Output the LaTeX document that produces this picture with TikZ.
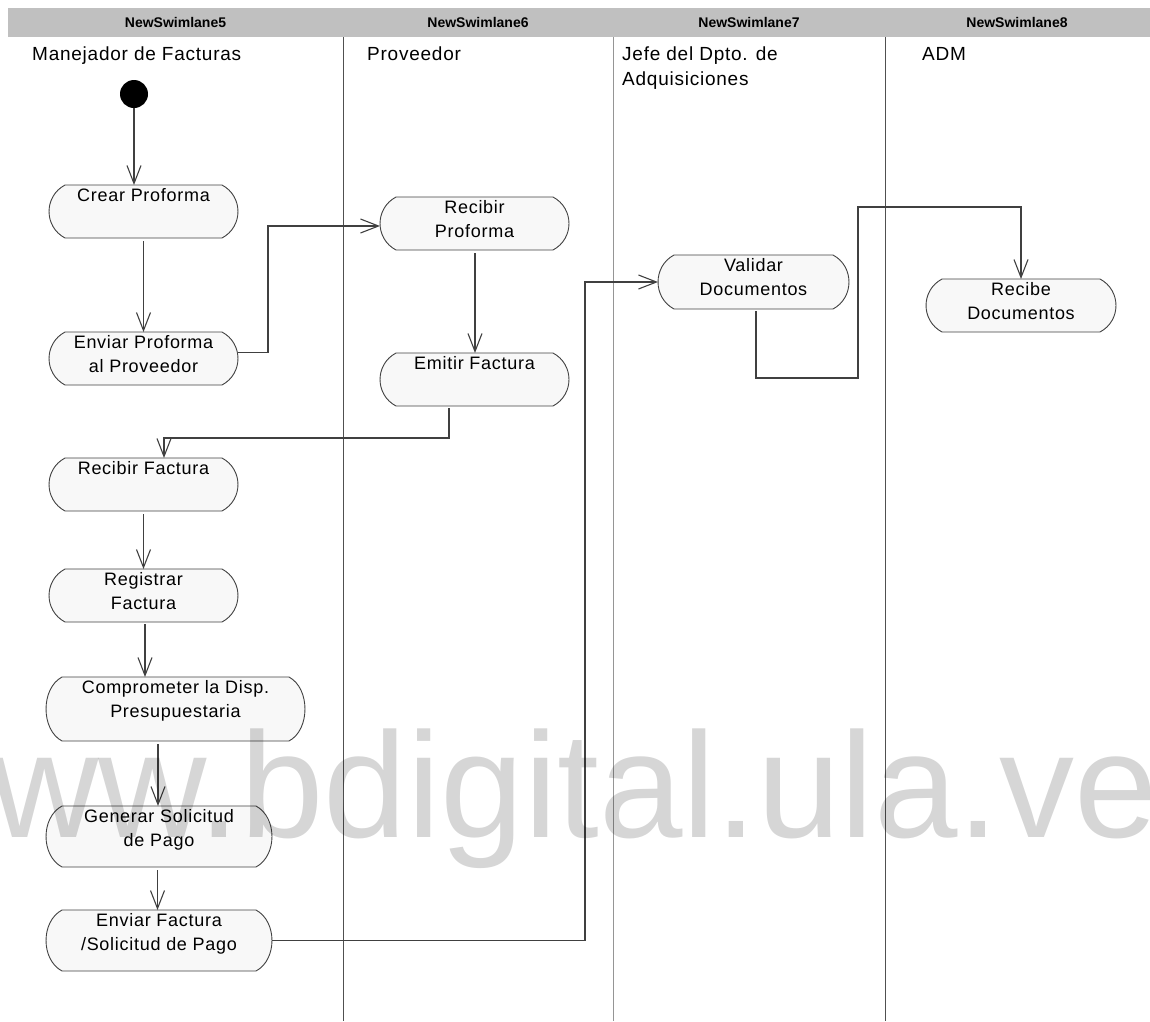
\documentclass[tikz,border=0pt]{standalone}
\usepackage{fontspec}
\usetikzlibrary{arrows.meta,calc}
\setmainfont{Liberation Sans}
\newfontfamily\dfont[LetterSpace=4]{Liberation Sans}
\newfontfamily\wfont{Liberation Sans}
\definecolor{headgray}{HTML}{C0C0C0}
\definecolor{edgegray}{HTML}{404040}
\definecolor{actfill}{HTML}{F8F8F8}
\definecolor{lanedark}{HTML}{505050}
\definecolor{lanelight}{HTML}{959595}
\tikzset{
  actbox/.style={rectangle, draw=none, inner sep=0pt, outer sep=0pt},
  actline/.style={draw=edgegray, fill=actfill, line width=0.9pt},
  acttext/.style={anchor=north, inner sep=0pt, align=center,
    font=\dfont\fontsize{18}{24}\selectfont},
  lanehead/.style={inner sep=0pt, font=\bfseries\fontsize{14}{16}\selectfont},
  lanetitle/.style={anchor=north west, inner sep=0pt, align=left,
    font=\dfont\fontsize{19}{25}\selectfont},
  flow/.style={draw=edgegray, line width=1.2pt,
    -{Straight Barb[length=18pt,width=14pt,line width=1.1pt]}},
  initial/.style={circle, fill=black, minimum size=28pt, inner sep=0pt},
  watermark/.style={anchor=base west, inner sep=0pt, text=black, text opacity=0.16,
    font=\wfont\fontsize{150}{150}\selectfont}
}
% activity: name, centre x, top y, width, height, label
\newcommand\actnode[6]{%
  \node[actbox, minimum width=#4pt, minimum height=#5pt] (#1) at (#2,{#3+#5/2}) {};
  \draw[actline] ([shift={(16,0)}]#1.north west) -- ([shift={(-16,0)}]#1.north east)
    .. controls ([shift={(5.3,11.3)}]#1.north east) and ([shift={(5.3,-11.3)}]#1.south east)
    .. ([shift={(-16,0)}]#1.south east)
    -- ([shift={(16,0)}]#1.south west)
    .. controls ([shift={(-5.3,-11.3)}]#1.south west) and ([shift={(-5.3,11.3)}]#1.north west)
    .. ([shift={(16,0)}]#1.north west) -- cycle;
  \node[acttext] (#1-label) at ([shift={(0,3.5)}]#1.north) {#6};
}
\begin{document}
\begin{tikzpicture}[x=1pt, y=-1pt]
\useasboundingbox (0,0) rectangle (1150,1021);
\clip (0,0) rectangle (1150,1021);

% swimlane header and dividers
\fill[headgray] (8,8) rectangle (1150,37);
\draw[lanedark, line width=0.9pt] (343,37) -- (343,1021);
\draw[lanelight, line width=0.9pt] (613,37) -- (613,1021);
\draw[lanedark, line width=0.9pt] (885,37) -- (885,1021);

\node[lanehead] (h5) at (175.5,22.5) {NewSwimlane5};
\node[lanehead] (h6) at (478,22.5) {NewSwimlane6};
\node[lanehead] (h7) at (749,22.5) {NewSwimlane7};
\node[lanehead] (h8) at (1017,22.5) {NewSwimlane8};

\node[lanetitle] (t5) at (32,47) {Manejador de Facturas};
\node[lanetitle] (t6) at (367,47) {Proveedor};
\node[lanetitle] (t7) at (622,47) {Jefe del Dpto. de\\Adquisiciones};
\node[lanetitle] (t8) at (922,47) {ADM};

% activities
\node[initial] (start) at (134,94) {};
\actnode{crear}{143.5}{185}{189}{53}{Crear Proforma}
\actnode{enviarP}{143.5}{332}{189}{53}{Enviar Proforma\\al Proveedor}
\actnode{recibirP}{474.5}{197}{189}{53}{Recibir\\Proforma}
\actnode{emitir}{474.5}{353}{189}{53}{Emitir Factura}
\actnode{recibirF}{143.5}{458}{189}{53}{Recibir Factura}
\actnode{registrar}{143.5}{569}{189}{53}{Registrar\\Factura}
\actnode{comprometer}{175.5}{677}{259}{64}{Comprometer la Disp.\\Presupuestaria}
\actnode{generar}{159}{806}{226}{61}{Generar Solicitud\\de Pago}
\actnode{enviarF}{159}{910}{226}{61}{Enviar Factura\\/Solicitud de Pago}
\actnode{validar}{753.5}{255}{191}{54}{Validar\\Documentos}
\actnode{recibe}{1021}{279}{190}{53}{Recibe\\Documentos}

% control flows
\draw[flow] (start.south) -- (start.south |- crear.north);
\draw[flow] ($(crear.south)+(0,3)$) -- (enviarP.north);
\draw[flow] ($(enviarP.east)+(0,-6)$) -- ++(30,0) |- ($(recibirP.west)+(0,2.5)$);
\draw[flow] ($(recibirP.south)+(0.5,3)$) -- ($(emitir.north)+(0.5,0)$);
\draw[flow] ($(emitir.south)+(-25.5,2)$) -- ++(0,30) -| ($(recibirF.north)+(20.5,0)$);
\draw[flow] ($(recibirF.south)+(0,3)$) -- (registrar.north);
\draw[flow] ($(registrar.south)+(1.5,2)$) -- ($(registrar.south |- comprometer.north)+(1.5,0)$);
\draw[flow] ($(comprometer.south -| generar.north)+(-1,3)$) -- ($(generar.north)+(-1,0)$);
\draw[flow] ($(generar.south)+(-1.5,3)$) -- ($(enviarF.north)+(-1.5,0)$);
\draw[flow] (enviarF.east) -- ++(313,0) |- (validar.west);
\draw[flow] ($(validar.south)+(2.5,2)$) -- ++(0,67) -- ++(102,0) -- ++(0,-171) -| (recibe.north);

% watermark over the page
\node[watermark] (wm) at (-118,837) {www.bdigital.ula.ve};
\end{tikzpicture}
\end{document}
